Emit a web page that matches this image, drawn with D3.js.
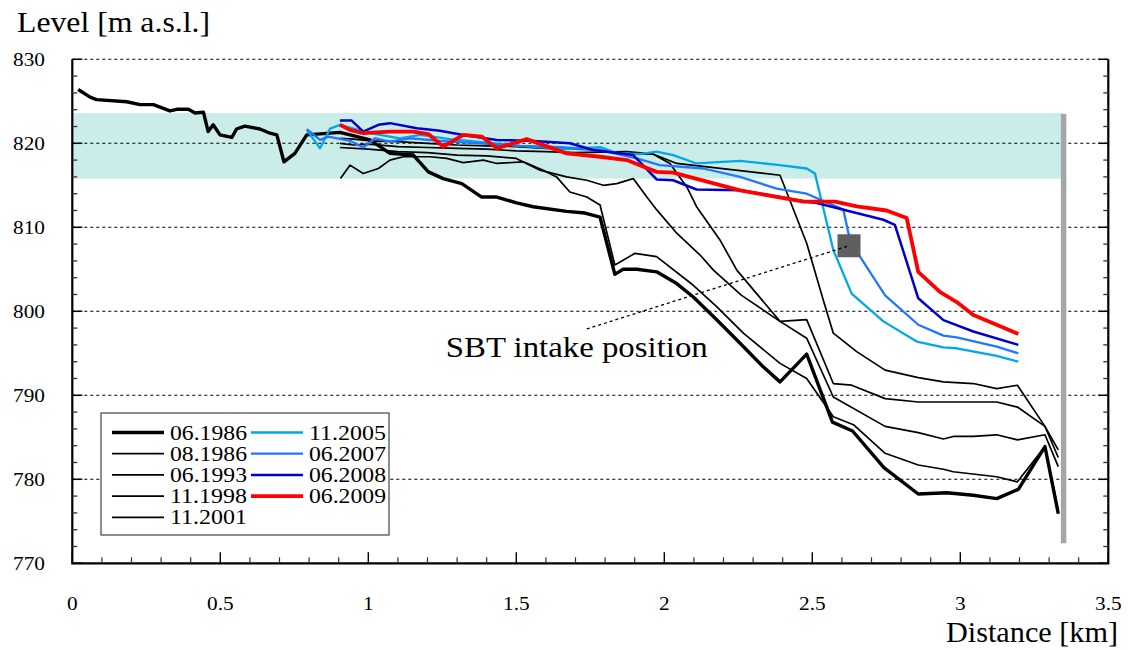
<!DOCTYPE html>
<html>
<head>
<meta charset="utf-8">
<script src="https://cdn.jsdelivr.net/npm/d3@7"></script>
<style>
  body { margin: 0; background: #fff; }
  svg { display: block; }
</style>
</head>
<body>
<svg id="chart" width="1128" height="650" font-family="'Liberation Serif', 'DejaVu Serif', serif"></svg>
<script>
// Longitudinal bed profiles of the reservoir, [distance km, level m a.s.l.]
const p06_1986 = [[0.020,826.4],[0.060,825.5],[0.082,825.2],[0.184,824.95],[0.229,824.6],[0.274,824.6],[0.330,823.85],[0.353,824.05],[0.392,824.05],[0.415,823.6],[0.443,823.7],[0.459,821.4],[0.476,822.2],[0.499,821.0],[0.539,820.7],[0.555,821.7],[0.583,822.05],[0.634,821.7],[0.668,821.2],[0.691,821.0],[0.715,817.8],[0.752,818.8],[0.792,821.0],[0.904,821.3],[1.006,820.4],[1.073,818.8],[1.152,818.6],[1.203,816.6],[1.253,815.8],[1.316,815.2],[1.383,813.6],[1.434,813.6],[1.501,812.9],[1.557,812.45],[1.670,811.9],[1.732,811.7],[1.783,811.2],[1.833,804.4],[1.861,805.0],[1.907,805.0],[1.974,804.7],[2.042,803.3],[2.098,801.7],[2.177,799.0],[2.256,796.2],[2.334,793.4],[2.391,791.6],[2.481,794.9],[2.568,786.8],[2.636,785.75],[2.742,781.4],[2.858,778.25],[2.954,778.4],[3.044,778.1],[3.123,777.7],[3.196,778.8],[3.286,783.9],[3.331,775.9]];
const p08_1986 = [[0.906,815.8],[0.938,817.4],[0.983,816.4],[1.034,817.0],[1.073,818.0],[1.118,818.4],[1.164,818.4],[1.208,818.4],[1.265,818.2],[1.321,817.7],[1.389,818.0],[1.434,817.6],[1.524,817.8],[1.591,816.8],[1.636,816.0],[1.681,814.2],[1.738,813.6],[1.783,812.65],[1.833,805.5],[1.901,806.9],[1.974,806.5],[2.098,803.1],[2.177,800.55],[2.267,797.4],[2.391,793.8],[2.481,792.0],[2.571,787.45],[2.639,786.5],[2.746,783.1],[2.858,781.7],[2.943,781.2],[2.976,780.9],[3.123,780.3],[3.193,779.7],[3.286,783.9],[3.331,776.3]];
const p06_1993 = [[0.904,819.5],[1.0,819.3],[1.1,819.0],[1.2,818.9],[1.3,818.6],[1.4,818.5],[1.5,818.2],[1.580,816.8],[1.670,816.0],[1.738,815.6],[1.794,815.0],[1.839,815.2],[1.895,815.8],[1.941,813.6],[1.974,812.1],[2.042,809.3],[2.121,806.7],[2.166,804.9],[2.261,801.9],[2.391,798.8],[2.481,796.8],[2.571,789.8],[2.746,786.3],[2.858,785.55],[2.943,784.8],[2.976,785.1],[3.044,785.1],[3.123,785.3],[3.193,784.7],[3.286,785.3],[3.331,781.5]];
const p11_1998 = [[0.904,820.0],[0.95,819.8],[1.0,819.9],[1.1,819.6],[1.2,819.5],[1.3,819.4],[1.4,819.3],[1.5,819.1],[1.6,819.0],[1.7,818.9],[1.873,819.0],[1.963,818.7],[2.019,817.6],[2.076,814.8],[2.109,812.45],[2.188,808.5],[2.245,804.9],[2.391,798.8],[2.481,799.0],[2.571,791.4],[2.633,791.2],[2.746,789.6],[2.858,789.2],[2.976,789.2],[3.123,789.2],[3.193,788.6],[3.286,786.3],[3.331,782.6]];
const p11_2001 = [[0.904,820.6],[0.95,820.5],[1.0,820.3],[1.1,820.2],[1.2,820.0],[1.3,819.8],[1.4,819.7],[1.5,819.6],[1.6,819.4],[1.7,819.3],[1.783,819.2],[1.873,818.8],[1.963,818.7],[1.985,818.4],[2.042,817.6],[2.391,816.2],[2.481,808.1],[2.537,801.35],[2.571,797.4],[2.650,795.2],[2.746,793.0],[2.858,792.1],[2.943,791.6],[3.044,791.4],[3.123,790.8],[3.193,791.2],[3.286,786.3],[3.331,783.5]];
const p11_2005 = [[0.792,821.6],[0.837,819.4],[0.871,821.75],[0.904,822.2],[1.006,821.2],[1.107,820.6],[1.175,821.0],[1.276,820.5],[1.366,820.2],[1.513,819.7],[1.670,819.3],[1.783,819.55],[1.839,818.85],[1.918,818.7],[1.974,819.0],[2.030,818.6],[2.109,817.6],[2.256,817.9],[2.391,817.4],[2.481,817.0],[2.509,816.4],[2.537,812.3],[2.571,807.3],[2.633,802.1],[2.740,798.8],[2.853,796.4],[2.943,795.7],[2.988,795.6],[3.123,794.7],[3.196,794.0]];
const p06_2007 = [[0.792,821.7],[0.837,820.4],[0.865,820.8],[0.938,820.3],[0.983,819.5],[1.023,820.6],[1.073,820.2],[1.141,820.6],[1.242,820.3],[1.377,820.0],[1.513,819.7],[1.648,819.55],[1.783,819.2],[1.907,818.2],[1.985,817.4],[2.132,817.0],[2.256,816.0],[2.380,814.6],[2.481,814.0],[2.605,812.1],[2.622,809.3],[2.661,806.5],[2.746,801.9],[2.858,798.4],[2.943,797.1],[2.988,796.9],[3.123,795.8],[3.196,795.0]];
const p06_2008 = [[0.904,822.7],[0.944,822.7],[0.983,821.4],[1.034,822.2],[1.073,822.4],[1.164,821.8],[1.242,821.5],[1.321,821.0],[1.434,820.4],[1.546,820.3],[1.681,820.0],[1.760,819.2],[1.895,818.6],[1.974,815.7],[2.030,815.6],[2.109,814.5],[2.256,814.4],[2.391,813.6],[2.481,813.05],[2.515,812.9],[2.740,810.9],[2.779,810.3],[2.858,801.55],[2.943,798.95],[3.044,797.6],[3.196,796.0]];
const p06_2009 = [[0.904,822.2],[0.938,821.6],[0.983,821.2],[1.073,821.4],[1.152,821.4],[1.203,821.1],[1.253,819.6],[1.321,821.0],[1.383,820.8],[1.434,819.4],[1.535,820.5],[1.670,818.8],[1.783,818.4],[1.873,818.0],[1.974,816.6],[2.030,816.5],[2.256,814.4],[2.470,813.05],[2.577,813.05],[2.650,812.5],[2.751,812.0],[2.819,811.1],[2.858,804.7],[2.931,802.3],[2.988,801.1],[3.044,799.55],[3.123,798.4],[3.196,797.3]];

const surveyDates = ["06.1986", "08.1986", "06.1993", "11.1998", "11.2001", "11.2005", "06.2007", "06.2008", "06.2009"];
const surveyProfiles = [p06_1986, p08_1986, p06_1993, p11_1998, p11_2001, p11_2005, p06_2007, p06_2008, p06_2009];

const xTickValues = [0, 0.5, 1, 1.5, 2, 2.5, 3, 3.5];
const yTickValues = [770, 780, 790, 800, 810, 820, 830];

// operating band of the reservoir level and the dam axis
const operatingBand = [815.8, 823.6];
const damDistance = 3.349;
const damLevels = [772.4, 823.5];
// intake of the sediment bypass tunnel and its label anchor
const intakePoint = [2.624, 807.8];
const intakeLabelPoint = [1.738, 797.9];
const intakeLabel = "SBT intake position";

// line appearance per survey
const surveyStyle = {
  "06.1986": { color: "#000000", width: 3.4 },
  "08.1986": { color: "#000000", width: 1.7 },
  "06.1993": { color: "#000000", width: 1.7 },
  "11.1998": { color: "#000000", width: 1.7 },
  "11.2001": { color: "#000000", width: 1.7 },
  "11.2005": { color: "#00a8e8", width: 2.3 },
  "06.2007": { color: "#2277ff", width: 2.3 },
  "06.2008": { color: "#0000cc", width: 2.5 },
  "06.2009": { color: "#ff0000", width: 3.8 }
};

const SERIF = "'Liberation Serif', 'DejaVu Serif', serif";
const svg = d3.select("#chart");
const plot = { left: 72.3, right: 1108.3, top: 59.3, bottom: 563.3 };

const x = d3.scaleLinear().domain([0, 3.5]).range([plot.left, plot.right]);
const y = d3.scaleLinear().domain([770, 830]).range([plot.bottom, plot.top]);

function stretch(sel, factor) {
  sel.each(function () {
    const w = this.getComputedTextLength();
    d3.select(this).attr("textLength", w * factor).attr("lengthAdjust", "spacingAndGlyphs");
  });
}
function fitTo(sel, width) {
  sel.attr("textLength", width).attr("lengthAdjust", "spacingAndGlyphs");
}

// operating band
svg.append("rect")
  .attr("x", x(0)).attr("width", x(damDistance) - x(0))
  .attr("y", y(operatingBand[1])).attr("height", y(operatingBand[0]) - y(operatingBand[1]))
  .attr("fill", "#cbede9");

// dotted horizontal grid
svg.append("g").selectAll("line").data(yTickValues.filter(v => v > 770)).join("line")
  .attr("x1", plot.left).attr("x2", plot.right)
  .attr("y1", d => y(d)).attr("y2", d => y(d))
  .attr("stroke", "#000").attr("stroke-width", 1.1).attr("stroke-dasharray", "3,3");

// dam axis
svg.append("line")
  .attr("x1", x(damDistance)).attr("x2", x(damDistance))
  .attr("y1", y(damLevels[1])).attr("y2", y(damLevels[0]))
  .attr("stroke", "#a6a6a6").attr("stroke-width", 5.5);

// survey profiles
const line = d3.line().x(d => x(d[0])).y(d => y(d[1]));
const drawOrder = [1, 2, 3, 4, 0, 5, 6, 7, 8];
svg.append("g").selectAll("path").data(drawOrder).join("path")
  .attr("d", i => line(surveyProfiles[i]))
  .attr("fill", "none")
  .attr("stroke", i => surveyStyle[surveyDates[i]].color)
  .attr("stroke-width", i => surveyStyle[surveyDates[i]].width)
  .attr("stroke-linejoin", "round");

// intake marker and leader
const sq = 23;
svg.append("rect")
  .attr("x", x(intakePoint[0]) - sq / 2).attr("y", y(intakePoint[1]) - sq / 2)
  .attr("width", sq).attr("height", sq).attr("fill", "#5f5f5f");
svg.append("line")
  .attr("x1", x(intakeLabelPoint[0])).attr("y1", y(intakeLabelPoint[1]))
  .attr("x2", x(intakePoint[0])).attr("y2", y(intakePoint[1]))
  .attr("stroke", "#000").attr("stroke-width", 1.3).attr("stroke-dasharray", "3,3");
svg.append("text")
  .attr("font-family", SERIF)
  .attr("x", x(intakeLabelPoint[0]) - 10).attr("y", y(intakeLabelPoint[1]) + 28)
  .attr("text-anchor", "middle").attr("font-size", 29)
  .text(intakeLabel)
  .call(fitTo, 262);

// axes frame: solid left, bottom and right
const axisG = svg.append("g");
axisG.append("path")
  .attr("d", `M${plot.left},${plot.top}V${plot.bottom}H${plot.right}V${plot.top}`)
  .attr("fill", "none").attr("stroke", "#000").attr("stroke-width", 2.2);

// y ticks (inward on left and right)
const yMinor = d3.range(772, 830, 2).filter(v => v % 10 !== 0);
axisG.selectAll(".ytl").data(yTickValues).join("line")
  .attr("x1", plot.left).attr("x2", plot.left + 10).attr("y1", d => y(d)).attr("y2", d => y(d))
  .attr("stroke", "#000").attr("stroke-width", 1.5);
axisG.selectAll(".ytr").data(yTickValues).join("line")
  .attr("x1", plot.right).attr("x2", plot.right - 10).attr("y1", d => y(d)).attr("y2", d => y(d))
  .attr("stroke", "#000").attr("stroke-width", 1.5);
axisG.selectAll(".ymn").data(yMinor).join("line")
  .attr("x1", plot.left).attr("x2", plot.left + 5).attr("y1", d => y(d)).attr("y2", d => y(d))
  .attr("stroke", "#333").attr("stroke-width", 1.3);
axisG.selectAll(".ymnr").data(yMinor).join("line")
  .attr("x1", plot.right).attr("x2", plot.right - 5).attr("y1", d => y(d)).attr("y2", d => y(d))
  .attr("stroke", "#333").attr("stroke-width", 1.3);

// x ticks (inward at the bottom)
const xMinor = d3.range(1, 35).map(v => v / 10).filter(v => Math.round(v * 10) % 5 !== 0);
axisG.selectAll(".xtm").data(xTickValues).join("line")
  .attr("x1", d => x(d)).attr("x2", d => x(d)).attr("y1", plot.bottom).attr("y2", plot.bottom - 11)
  .attr("stroke", "#000").attr("stroke-width", 1.4);
axisG.selectAll(".xtn").data(xMinor).join("line")
  .attr("x1", d => x(d)).attr("x2", d => x(d)).attr("y1", plot.bottom).attr("y2", plot.bottom - 6)
  .attr("stroke", "#333").attr("stroke-width", 1.2);

// tick labels
svg.append("g").selectAll("text").data(yTickValues).join("text")
  .attr("font-family", SERIF)
  .attr("x", 45).attr("y", d => y(d)).attr("dy", "0.35em")
  .attr("text-anchor", "end").attr("font-size", 19)
  .text(d => d)
  .call(stretch, 1.12);
svg.append("g").selectAll("text").data(xTickValues).join("text")
  .attr("font-family", SERIF)
  .attr("x", d => x(d)).attr("y", 603).attr("dy", "0.35em")
  .attr("text-anchor", "middle").attr("font-size", 19)
  .text(d => d3.format("~g")(d))
  .call(stretch, 1.12);

// axis titles
svg.append("text").attr("font-family", SERIF).attr("x", 17).attr("y", 32).attr("font-size", 29)
  .text("Level [m a.s.l.]").call(fitTo, 193);
svg.append("text").attr("font-family", SERIF).attr("x", 1118).attr("y", 642).attr("text-anchor", "end").attr("font-size", 29)
  .text("Distance [km]").call(fitTo, 172);

// legend
const lg = svg.append("g");
lg.append("rect").attr("x", 101).attr("y", 413).attr("width", 288).attr("height", 122)
  .attr("fill", "#fff").attr("stroke", "#444").attr("stroke-width", 1.2);
const rowH = 21.2;
const items = lg.selectAll("g").data(surveyDates).join("g")
  .attr("transform", (d, i) => {
    const col = i < 5 ? 0 : 1;
    const row = i < 5 ? i : i - 5;
    return `translate(${col ? 251 : 112},${432.5 + row * rowH})`;
  });
items.append("line").attr("x1", 0).attr("x2", 52)
  .attr("stroke", d => surveyStyle[d].color)
  .attr("stroke-width", d => surveyStyle[d].width);
items.append("text").attr("font-family", SERIF)
  .attr("x", 58).attr("dy", "0.35em").attr("font-size", 20.5)
  .text(d => d).call(fitTo, 77);
</script>
</body>
</html>
